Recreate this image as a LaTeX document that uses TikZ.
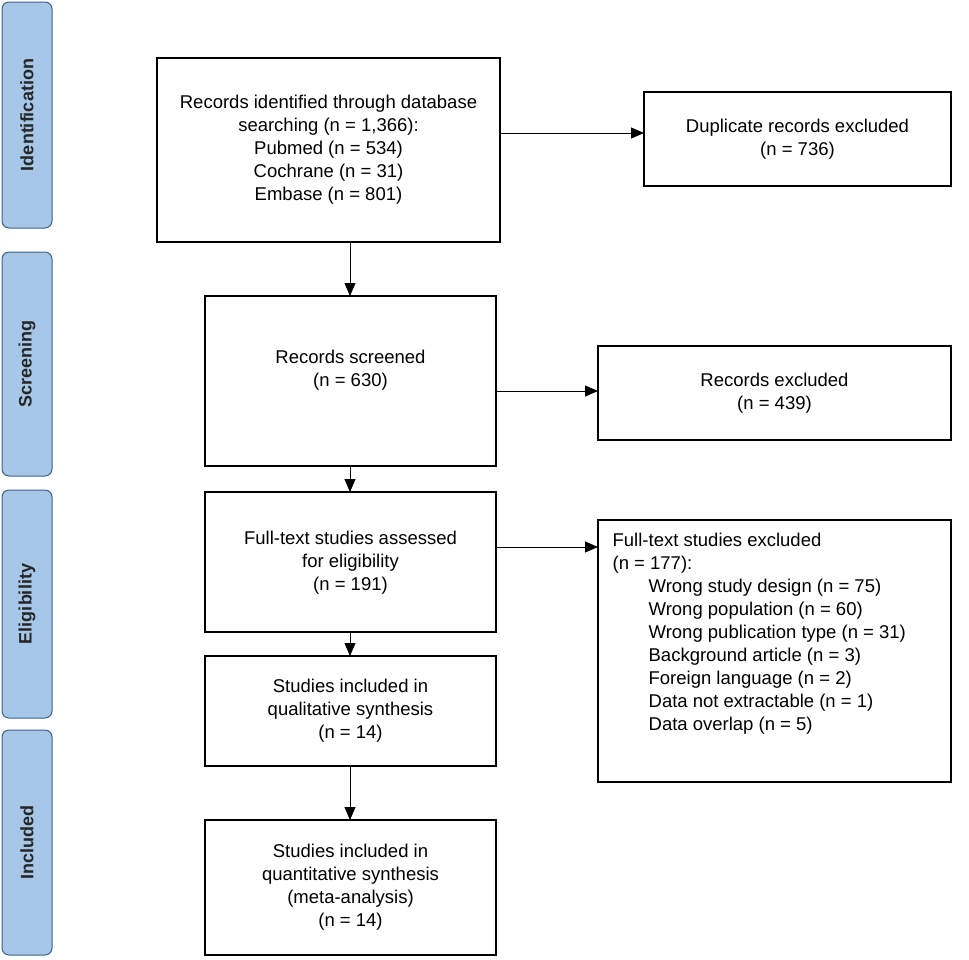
\documentclass[tikz,border=0pt]{standalone}
\usepackage{fontspec}
\setmainfont{Liberation Sans}
\usetikzlibrary{arrows.meta}
\definecolor{sidefill}{HTML}{A7C7E8}
\definecolor{sidedraw}{HTML}{3E5F8A}
\begin{document}
\begin{tikzpicture}[x=1pt,y=-1pt,
  box/.style={draw=black,line width=1.3pt,fill=white,font=\fontsize{18.5}{23}\selectfont,align=center,inner sep=0pt},
  side/.style={draw=sidedraw,line width=1pt,fill=sidefill,rounded corners=7pt},
  stxt/.style={rotate=90,font=\bfseries\fontsize{18}{20}\selectfont,text=black!85},
  arr/.style={-{Triangle[length=13pt,width=11pt]},line width=0.9pt}]
\useasboundingbox (0,0) rectangle (969,959);
\foreach \n/\a/\b/\t in {s1/2/228/Identification,s2/252/476/Screening,s3/490/718/Eligibility,s4/730/955/Included}{
  \draw[side] (2,\a) rectangle (52,\b);
  \node[stxt] (\n) at (27,{(\a+\b)/2}) {\t};
}
\draw[box] (157,58) rectangle (500,242);
\node[box,draw=none,fill=none] (b1) at (328.5,150) {Records identified through database\\searching (n = 1,366):\\Pubmed (n = 534)\\Cochrane (n = 31)\\Embase (n = 801)};
\coordinate (b1t) at (350,242); \coordinate (b1r) at (500,133);
\draw[box] (644,92) rectangle (951,186);
\node[box,draw=none,fill=none] (d1) at (797.5,139) {Duplicate records excluded\\(n = 736)};
\coordinate (d1l) at (644,133);
\draw[box] (205,296) rectangle (496,466);
\node[box,draw=none,fill=none] (b2) at (350.5,370) {Records screened\\(n = 630)};
\coordinate (b2t) at (350,296); \coordinate (b2b) at (350,466); \coordinate (b2r) at (496,391);
\draw[box] (598,346) rectangle (951,440);
\node[box,draw=none,fill=none] (d2) at (774.5,393) {Records excluded\\(n = 439)};
\coordinate (d2l) at (598,391);
\draw[box] (205,492) rectangle (496,632);
\node[box,draw=none,fill=none] (b3) at (350.5,563) {Full-text studies assessed\\for eligibility\\(n = 191)};
\coordinate (b3t) at (350,492); \coordinate (b3b) at (350,632); \coordinate (b3r) at (496,547);
\draw[box] (598,520) rectangle (951,782);
\node[box,draw=none,fill=none,align=left,anchor=north west] (d3) at (612,532) {Full-text studies excluded\\(n = 177):\\\hspace{36pt}Wrong study design (n = 75)\\\hspace{36pt}Wrong population (n = 60)\\\hspace{36pt}Wrong publication type (n = 31)\\\hspace{36pt}Background article (n = 3)\\\hspace{36pt}Foreign language (n = 2)\\\hspace{36pt}Data not extractable (n = 1)\\\hspace{36pt}Data overlap (n = 5)};
\coordinate (d3l) at (598,547);
\draw[box] (205,656) rectangle (496,766);
\node[box,draw=none,fill=none] (b4) at (350.5,711) {Studies included in\\qualitative synthesis\\(n = 14)};
\coordinate (b4t) at (350,656); \coordinate (b4b) at (350,766);
\draw[box] (205,820) rectangle (496,955);
\node[box,draw=none,fill=none] (b5) at (350.5,887) {Studies included in\\quantitative synthesis\\(meta-analysis)\\(n = 14)};
\coordinate (b5t) at (350,820);
\draw[arr] (b1t) -- (b2t);
\draw[arr] (b2b) -- (b3t);
\draw[arr] (b3b) -- (b4t);
\draw[arr] (b4b) -- (b5t);
\draw[arr] (b1r) -- (d1l);
\draw[arr] (b2r) -- (d2l);
\draw[arr] (b3r) -- (d3l);
\end{tikzpicture}
\end{document}
